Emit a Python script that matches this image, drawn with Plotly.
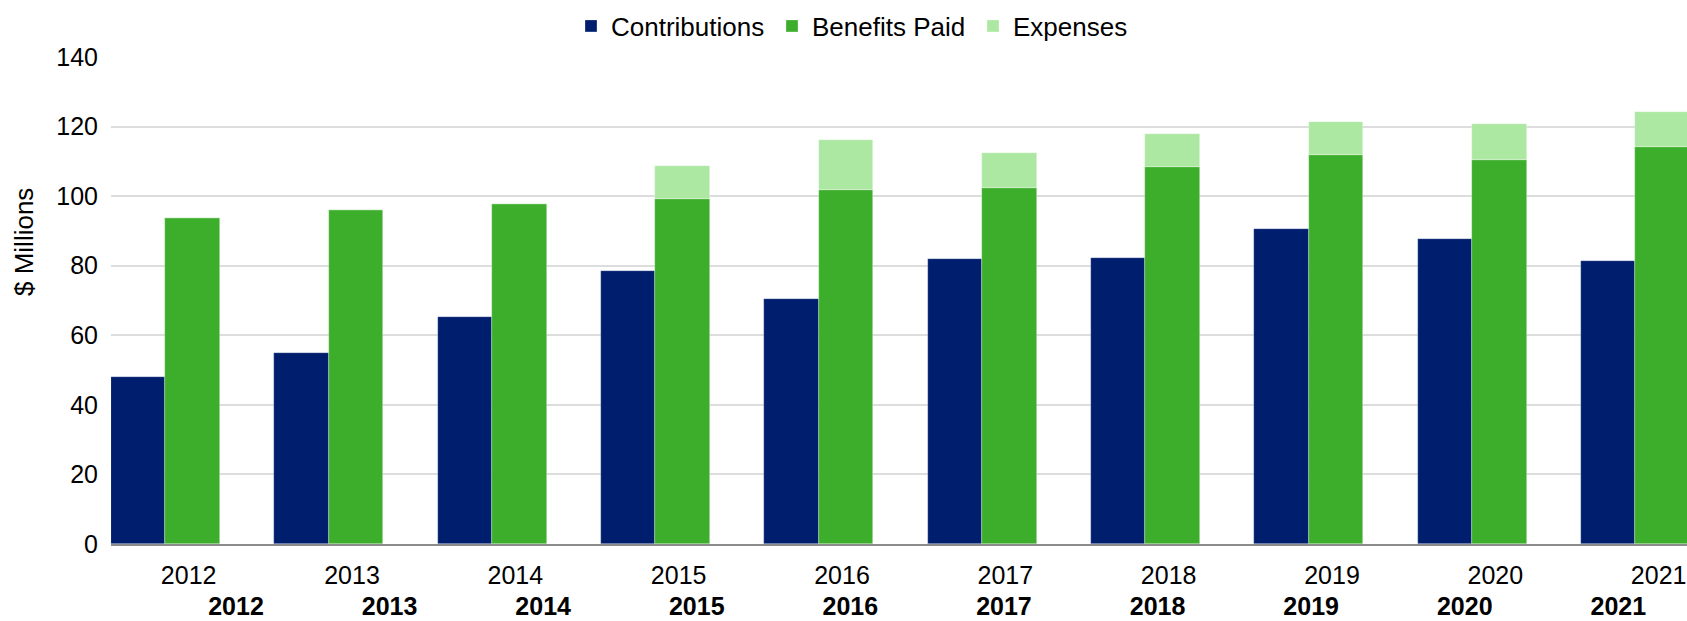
import plotly.graph_objects as go

years = ["2012", "2013", "2014", "2015", "2016", "2017", "2018", "2019", "2020", "2021"]
contributions = [47.9, 55.0, 65.3, 78.6, 70.5, 81.9, 82.3, 90.5, 87.7, 81.5]
benefits_paid = [93.6, 95.9, 97.8, 99.3, 101.7, 102.3, 108.3, 111.7, 110.4, 114.0]
expenses = [0, 0, 0, 9.4, 14.3, 10.2, 9.7, 9.7, 10.3, 10.3]
y_ticks = [0, 20, 40, 60, 80, 100, 120, 140]

idx = list(range(len(years)))
FONT = "Liberation Sans, Arial, sans-serif"
slot = 1 / 3

fig = go.Figure()
fig.add_trace(go.Bar(
    x=idx, y=contributions, name="Contributions",
    width=slot, offset=-0.5,
    marker=dict(color="#001E6E", line=dict(width=0.6, color="rgba(255,255,255,0.5)")),
))
fig.add_trace(go.Bar(
    x=idx, y=benefits_paid, name="Benefits Paid",
    width=slot, offset=-slot / 2,
    marker=dict(color="#3DAE2B", line=dict(width=0.6, color="rgba(255,255,255,0.5)")),
))
fig.add_trace(go.Bar(
    x=idx, y=expenses, base=benefits_paid, name="Expenses",
    width=slot, offset=-slot / 2,
    marker=dict(color="#ADE8A3", line=dict(width=0.6, color="rgba(255,255,255,0.5)")),
))
# invisible trace to carry the second (bold) year row
fig.add_trace(go.Scatter(
    x=idx, y=[0] * len(idx), xaxis="x2", mode="markers",
    marker=dict(opacity=0), showlegend=False, hoverinfo="skip",
))

fig.update_layout(
    width=1687, height=621,
    margin=dict(l=111, r=0, t=57, b=77, autoexpand=False),
    paper_bgcolor="white", plot_bgcolor="white",
    barmode="overlay",
    bargap=0,
    font=dict(family=FONT, size=25, color="#000000"),
    legend=dict(
        orientation="h", xref="container", yref="container",
        x=(587 - 16) / 1687, xanchor="left", y=1 - 26 / 621, yanchor="middle",
        font=dict(family=FONT, size=26, color="#000000"),
        entrywidth=156, entrywidthmode="pixels",
        traceorder="normal", itemclick=False,
    ),
    xaxis=dict(
        range=[-0.5, 9.149],
        tickmode="array", tickvals=idx, ticktext=years,
        ticks="", showgrid=False, zeroline=False,
        showline=True, linecolor="#8C8C8C", linewidth=1.5,
        tickfont=dict(family=FONT, size=25, color="#000000"),
        ticklabelstandoff=8, ticklabelshift=-4, automargin=False,
    ),
    xaxis2=dict(
        overlaying="x", anchor="y", side="bottom",
        range=[-0.8138, 9.447],
        tickmode="array", tickvals=idx,
        ticktext=["<b>%s</b>" % y for y in years],
        ticks="", showgrid=False, zeroline=False, showline=False,
        tickfont=dict(family=FONT, size=25, color="#000000"),
        ticklabelstandoff=45, automargin=False,
    ),
    yaxis=dict(
        range=[0, 140],
        tickmode="array", tickvals=y_ticks,
        showgrid=True, gridcolor="#DDDDDD", gridwidth=1.5,
        zeroline=False, ticks="", showline=False,
        tickfont=dict(family=FONT, size=25, color="#000000"),
        ticklabelstandoff=12, automargin=False,
    ),
    annotations=[dict(
        text="$ Millions", textangle=-90,
        xref="paper", yref="paper",
        x=(24 - 111) / 1576, y=(544 - 242) / 487,
        xanchor="center", yanchor="middle", showarrow=False,
        font=dict(family=FONT, size=26, color="#000000"),
    )],
)

fig.write_html(
    "out.html",
    config={"displayModeBar": False},
    post_script="document.body.style.margin='0';document.body.style.overflow='hidden';",
)
